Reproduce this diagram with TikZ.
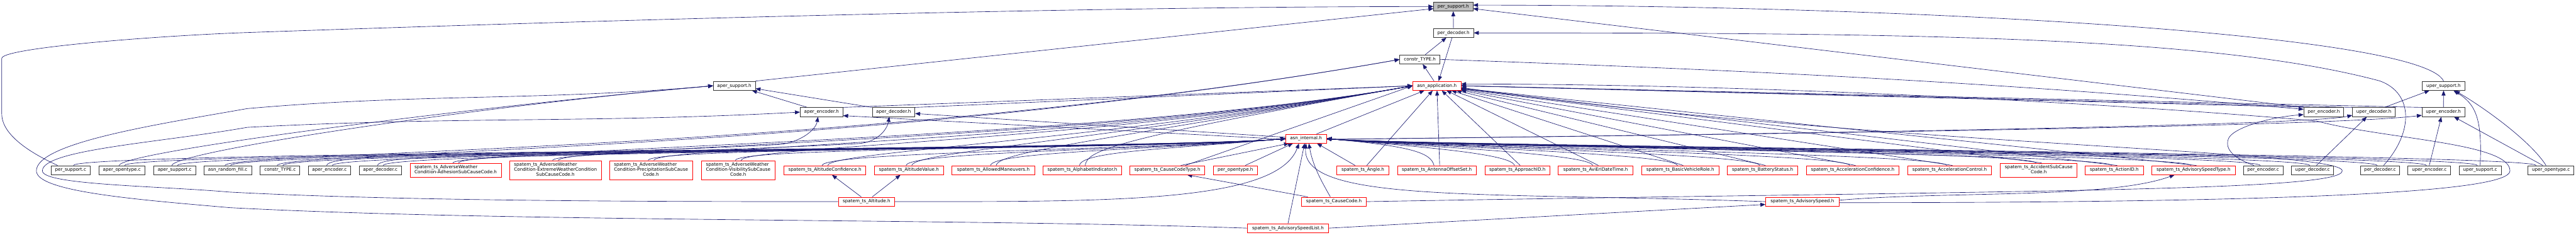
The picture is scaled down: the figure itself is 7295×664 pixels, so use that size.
\documentclass[tikz,border=0pt]{standalone}
\usepackage{fontspec}
\newfontfamily\dvs{DejaVu Sans}
\usetikzlibrary{arrows.meta}
\pgfdeclarelayer{bg}
\pgfdeclarelayer{paper}
\pgfsetlayers{paper,bg,main}
\definecolor{mb}{HTML}{191970}
\definecolor{rd}{HTML}{FF0000}
\definecolor{bk}{HTML}{333333}
\definecolor{gf}{HTML}{BFBFBF}
\newdimen\uu
\uu=0.2pt
\newcommand\nodefnt{\dvs\fontsize{2.56}{2.88}\selectfont}
\newcommand\twol[2]{\begin{tabular}{@{}l@{}}#1\\\multicolumn{1}{@{}c@{}}{#2}\end{tabular}}
\newcommand\threel[3]{\begin{tabular}{@{}l@{}}#1\\#2\\\multicolumn{1}{@{}c@{}}{#3}\end{tabular}}
\tikzset{
 bx/.style={draw=bk,line width=0.26pt,fill=white,minimum height=25.5*\uu,inner sep=0pt,font=\nodefnt},
 rb/.style={bx,draw=rd},
 ed/.style={draw=mb,line width=0.23pt,-{Triangle[length=2.8pt,width=2.2pt]}},
 fi/.style={out=80,in=185,out distance=40*\uu,in distance=350*\uu},
 fa/.style={out=78,in=190,out distance=40*\uu,in distance=900*\uu},
 ri/.style={out=105,in=-5,out distance=35*\uu,in distance=250*\uu},
 ct/.style={out=75,in=190,out distance=40*\uu,in distance=1500*\uu},
 ah/.style={out=75,in=185,out distance=40*\uu,in distance=700*\uu},
}
\begin{document}
\begin{tikzpicture}[x=0.2pt,y=0.2pt]
\useasboundingbox (0,0) rectangle (7295,664);
\begin{pgfonlayer}{paper}
\fill[white] (0,0) rectangle (7295,664);
\end{pgfonlayer}
% rank 0-5
\node[bx,fill=gf,minimum width=111*\uu] (psh) at (4115.5,645.5) {per\_support.h};
\node[bx,minimum width=114*\uu] (pdh) at (4116,571) {per\_decoder.h};
\node[bx,minimum width=114*\uu] (cth) at (4021,496) {constr\_TYPE.h};
\node[bx,minimum width=119*\uu] (ash) at (2079.5,421.5) {aper\_support.h};
\node[rb,minimum width=136*\uu] (app) at (4069,421.5) {asn\_application.h};
\node[bx,minimum width=120*\uu] (ush) at (6920,421.5) {uper\_support.h};
\node[bx,minimum width=121*\uu] (aeh) at (2326.5,347) {aper\_encoder.h};
\node[bx,minimum width=121*\uu] (adh) at (2530.5,347) {aper\_decoder.h};
\node[bx,minimum width=113*\uu] (peh) at (6580.5,347) {per\_encoder.h};
\node[bx,minimum width=121*\uu] (udh) at (6722.5,347) {uper\_decoder.h};
\node[bx,minimum width=121*\uu] (ueh) at (6919.5,347) {uper\_encoder.h};
\node[rb,minimum width=115*\uu] (ain) at (3698.5,272) {asn\_internal.h};
% rank 6
\node[bx,minimum width=110*\uu] (psc) at (200,183) {per\_support.c};
\node[bx,minimum width=130*\uu] (aoc) at (345,183) {aper\_opentype.c};
\node[bx,minimum width=119*\uu] (asc) at (494.5,183) {aper\_support.c};
\node[bx,minimum width=136*\uu] (arf) at (645,183) {asn\_random\_fill.c};
\node[bx,minimum width=112*\uu] (ctc) at (793,183) {constr\_TYPE.c};
\node[bx,minimum width=120*\uu] (aec) at (933,183) {aper\_encoder.c};
\node[bx,minimum width=120*\uu] (adc) at (1077,183) {aper\_decoder.c};
\node[rb,minimum width=259*\uu,minimum height=39.5*\uu] (s1) at (1290.5,183) {\twol{spatem\_ts\_AdverseWeather}{Condition-AdhesionSubCauseCode.h}};
\node[rb,minimum width=260*\uu,minimum height=54*\uu] (s2) at (1573,183) {\threel{spatem\_ts\_AdverseWeather}{Condition-ExtremeWeatherCondition}{SubCauseCode.h}};
\node[rb,minimum width=235*\uu,minimum height=54*\uu] (s3) at (1843.5,183) {\threel{spatem\_ts\_AdverseWeather}{Condition-PrecipitationSubCause}{Code.h}};
\node[rb,minimum width=209*\uu,minimum height=54*\uu] (s4) at (2090.5,183) {\threel{spatem\_ts\_AdverseWeather}{Condition-VisibilitySubCause}{Code.h}};
\node[rb,minimum width=232*\uu] (s5) at (2336,183) {spatem\_ts\_AltitudeConfidence.h};
\node[rb,minimum width=196*\uu] (s6) at (2574,183) {spatem\_ts\_AltitudeValue.h};
\node[rb,minimum width=234*\uu] (s7) at (2813,183) {spatem\_ts\_AllowedManeuvers.h};
\node[rb,minimum width=222*\uu] (s8) at (3065,183) {spatem\_ts\_AlphabetIndicator.h};
\node[rb,minimum width=212*\uu] (s9) at (3306,183) {spatem\_ts\_CauseCodeType.h};
\node[rb,minimum width=123*\uu] (poh) at (3498.5,183) {per\_opentype.h};
\node[rb,minimum width=147*\uu] (s10) at (3859.5,183) {spatem\_ts\_Angle.h};
\node[rb,minimum width=222*\uu] (s11) at (4069,183) {spatem\_ts\_AntennaOffsetSet.h};
\node[rb,minimum width=184*\uu] (s12) at (4297,183) {spatem\_ts\_ApproachID.h};
\node[rb,minimum width=211*\uu] (s13) at (4518.5,183) {spatem\_ts\_AviEriDateTime.h};
\node[rb,minimum width=219*\uu] (s14) at (4758.5,183) {spatem\_ts\_BasicVehicleRole.h};
\node[rb,minimum width=199*\uu] (s15) at (4991.5,183) {spatem\_ts\_BatteryStatus.h};
\node[rb,minimum width=263*\uu] (s16) at (5246.5,183) {spatem\_ts\_AccelerationConfidence.h};
\node[rb,minimum width=238*\uu] (s17) at (5521,183) {spatem\_ts\_AccelerationControl.h};
\node[rb,minimum width=217*\uu,minimum height=39.5*\uu] (s18) at (5773.5,183) {\twol{spatem\_ts\_AccidentSubCause}{Code.h}};
\node[rb,minimum width=165*\uu] (s19) at (5987.5,183) {spatem\_ts\_ActionID.h};
\node[rb,minimum width=236*\uu] (s20) at (6212,183) {spatem\_ts\_AdvisorySpeedType.h};
\node[bx,minimum width=112*\uu] (pec) at (6409,183) {per\_encoder.c};
\node[bx,minimum width=120*\uu] (udc) at (6549,183) {uper\_decoder.c};
\node[bx,minimum width=112*\uu] (pdc) at (6740,183) {per\_decoder.c};
\node[bx,minimum width=121*\uu] (uec) at (6879.5,183) {uper\_encoder.c};
\node[bx,minimum width=119*\uu] (usc) at (7023.5,183) {uper\_support.c};
\node[bx,minimum width=130*\uu] (uoc) at (7224,183) {uper\_opentype.c};
% rank 7-8
\node[rb,minimum width=160*\uu] (alt) at (2454,94) {spatem\_ts\_Altitude.h};
\node[rb,minimum width=183*\uu] (cc) at (3777.5,94) {spatem\_ts\_CauseCode.h};
\node[rb,minimum width=208*\uu] (asp) at (5104,94) {spatem\_ts\_AdvisorySpeed.h};
\node[rb,minimum width=229*\uu] (asl) at (3647.5,19) {spatem\_ts\_AdvisorySpeedList.h};
% waypoints
\coordinate (p1) at (5,342); \coordinate (p2) at (5,499); \coordinate (p3) at (700,572);
\coordinate (a1) at (650,77); \coordinate (a2) at (103,181); \coordinate (a3) at (700,357);
\coordinate (b1) at (650,121); \coordinate (b2) at (120,181); \coordinate (b3) at (700,304);
\coordinate (wcc) at (6633,181);
\coordinate (was) at (7108,181); \coordinate (was2) at (6560,322);
\coordinate (wpd) at (6740,435);
\coordinate (wpe) at (6310,270);
\coordinate (wae) at (2200,255); \coordinate (wad) at (2430,258);
\begin{pgfonlayer}{bg}
% top part
\draw[ed] (pdh.north) -- (psh.south);
\draw[ed] (ash.north east) -- ([yshift=-6*\uu]psh.west);
\draw[ed] (peh.north west) -- ([yshift=-6*\uu]psh.east);
\draw[ed] (ush.north) to[out=115,in=0,out distance=150*\uu,in distance=1200*\uu] ([yshift=4*\uu]psh.east);
\draw[ed] ([xshift=-37*\uu]psc.north) to[out=155,in=-90,out distance=50*\uu,in distance=70*\uu] (p1) -- (p2) to[out=90,in=182,out distance=30*\uu,in distance=250*\uu] (p3) to[out=2,in=180,out distance=1000*\uu,in distance=1000*\uu] (psh.west);
\draw[ed] ([xshift=15*\uu]cth.north) -- ([xshift=-20*\uu]pdh.south);
\draw[ed] ([xshift=-4*\uu]pdh.south) -- ([xshift=5*\uu]app.north);
\draw[ed] ([xshift=-8*\uu]app.north) -- ([xshift=8*\uu]cth.south);
\draw[ed] (cth.east) to[out=-2,in=175,out distance=1000*\uu,in distance=800*\uu] ([yshift=8*\uu]peh.west);
% aper headers
\draw[ed] ([xshift=-40*\uu]aeh.north) -- ([xshift=50*\uu]ash.south);
\draw[ed] (adh.north west) -- ([yshift=-8*\uu]ash.east);
\draw[ed] (aeh.north east) -- (app.west);
\draw[ed] (adh.north east) -- (app.west);
\draw[ed] ([yshift=-2*\uu]ain.west) -- ([yshift=-10*\uu]aeh.east);
\draw[ed] ([yshift=4*\uu]ain.west) -- ([yshift=-4*\uu]adh.east);
\draw[ed] ([xshift=30*\uu]ain.north) -- ([xshift=-35*\uu]app.south);
% uper / per headers
\draw[ed] ([yshift=-2*\uu]ain.east) .. controls (6300,300) and (6600,325) .. ([yshift=-9*\uu]udh.west);
\draw[ed] ([yshift=-2*\uu]ain.east) .. controls (6400,300) and (6750,325) .. ([yshift=-9*\uu]ueh.west);
\draw[ed] ([xshift=-30*\uu]peh.north) -- (app.east);
\draw[ed] (udh.north west) -- (app.east);
\draw[ed] (ueh.north west) -- (app.east);
\draw[ed] ([xshift=30*\uu]udh.north) -- ([xshift=-40*\uu]ush.south);
\draw[ed] (ueh.north) -- (ush.south);
% right .c files
\draw[ed] ([xshift=11*\uu]udc.north) -- ([xshift=-20*\uu]udh.south);
\draw[ed] (uec.north) -- ([xshift=-6*\uu]ueh.south);
\draw[ed] (usc.north) .. controls (7030,330) and (7010,370) .. ([xshift=28*\uu]ush.south);
\draw[ed] ([xshift=-14*\uu]uoc.north) .. controls (7170,260) and (7050,350) .. ([xshift=32*\uu]ush.south);
\draw[ed] ([xshift=-23*\uu]uoc.north) -- ([xshift=30*\uu]ueh.south);
\draw[ed] ([xshift=10*\uu]pdc.north) .. controls (6835,290) and (6835,400) .. (wpd) to[out=165,in=0,out distance=500*\uu,in distance=1200*\uu] (pdh.east);
\draw[ed] ([xshift=-26*\uu]pec.north) .. controls (6330,215) and (6300,240) .. (wpe) .. controls (6318,300) and (6420,332) .. ([yshift=-7*\uu]peh.west);
\foreach \n in {pec,udc,pdc,uec,usc}{\draw[ed] ([xshift=-8*\uu]\n.north) to[ri] (ain.east);}
\draw[ed] ([xshift=-42*\uu]uoc.north) to[ri] (ain.east);
% left .c files
\foreach \n in {psc,aoc,asc,arf,ctc,aec,adc}{\draw[ed] ([xshift=8*\uu]\n.north) to[fi] (ain.west);}
\draw[ed] ([xshift=-8*\uu]asc.north) to[ah] (ash.west);
\draw[ed] ([xshift=-8*\uu]aoc.north) to[ah] (ash.west);
\draw[ed] ([xshift=-8*\uu]arf.north) to[ct] (cth.west);
\draw[ed] ([xshift=-8*\uu]ctc.north) to[ct] (cth.west);
\draw[ed] ([xshift=-8*\uu]aec.north) to[out=80,in=183,out distance=40*\uu,in distance=700*\uu] (wae) to[out=3,in=-100,out distance=60*\uu,in distance=40*\uu] ([xshift=-10*\uu]aeh.south);
\draw[ed] ([xshift=-8*\uu]adc.north) to[out=80,in=183,out distance=40*\uu,in distance=800*\uu] (wad) to[out=3,in=-100,out distance=50*\uu,in distance=40*\uu] ([xshift=-12*\uu]adh.south);
% spatem headers
\foreach \n in {s1,s2,s3,s4,s5,s6,s7,s8}{
 \draw[ed] ([xshift=8*\uu]\n.north) to[fa] (app.west);
 \draw[ed] ([xshift=-8*\uu]\n.north) to[fi] (ain.west);}
\draw[ed] ([xshift=51*\uu]s9.north) -- (app.west);
\draw[ed] ([xshift=38*\uu]s9.north) -- ([xshift=10*\uu]ain.south west);
\draw[ed] ([xshift=28*\uu]poh.north) -- ([xshift=-37*\uu]ain.south);
\draw[ed] ([xshift=-22*\uu]s10.north) -- ([xshift=31*\uu]ain.south);
\draw[ed] ([xshift=11*\uu]s10.north) -- (app);
\foreach \n in {s11,s12,s13,s14,s15,s16,s17,s18,s19,s20}{
 \draw[ed] ([xshift=8*\uu]\n.north) -- (app);
 \draw[ed] ([xshift=-8*\uu]\n.north) to[ri] (ain.east);}
% rank 7 and 8
\draw[ed] ([xshift=-15*\uu]alt.north) -- ([xshift=20*\uu]s5.south);
\draw[ed] ([xshift=16*\uu]alt.north) -- ([xshift=-24*\uu]s6.south);
\draw[ed] (alt.east) to[out=0,in=-110,out distance=600*\uu,in distance=180*\uu] ([xshift=-20*\uu]ain.south);
\draw[ed] (alt.west) to[out=180,in=-3,out distance=500*\uu,in distance=500*\uu] (b1) to[out=175,in=-90,out distance=200*\uu,in distance=40*\uu] (b2) to[out=90,in=190,out distance=60*\uu,in distance=250*\uu] (b3) to[out=3,in=183,out distance=600*\uu,in distance=600*\uu] (aeh.west);
\draw[ed] ([xshift=-74*\uu]cc.north) -- ([xshift=56*\uu]s9.south);
\draw[ed] ([xshift=-10*\uu]cc.north) to[out=120,in=-80,out distance=60*\uu,in distance=60*\uu] ([xshift=8*\uu]ain.south);
\draw[ed] (cc.east) to[out=1,in=-90,out distance=1800*\uu,in distance=60*\uu] (wcc) to[out=90,in=-8,out distance=60*\uu,in distance=1200*\uu] ([yshift=-5*\uu]app.east);
\draw[ed] ([yshift=4*\uu]asp.east) to[out=5,in=-160,out distance=300*\uu,in distance=200*\uu] ([xshift=-54*\uu]s20.south);
\draw[ed] (asp.west) to[out=178,in=-95,out distance=800*\uu,in distance=170*\uu] (ain.south);
\draw[ed] ([yshift=-3*\uu]asp.east) to[out=0,in=-90,out distance=1300*\uu,in distance=60*\uu] (was) to[out=90,in=-15,out distance=80*\uu,in distance=200*\uu] (was2) to[out=175,in=0,out distance=500*\uu,in distance=900*\uu] ([yshift=5*\uu]app.east);
\draw[ed] (asl.east) -- ([yshift=-8*\uu]asp.west);
\draw[ed] (asl.north) -- ([xshift=-4*\uu]ain.south);
\draw[ed] (asl.west) to[out=178,in=-3,out distance=800*\uu,in distance=800*\uu] (a1) to[out=175,in=-90,out distance=250*\uu,in distance=60*\uu] (a2) to[out=90,in=190,out distance=80*\uu,in distance=250*\uu] (a3) to[out=5,in=185,out distance=500*\uu,in distance=500*\uu] (ash.west);
\end{pgfonlayer}
\end{tikzpicture}
\end{document}
